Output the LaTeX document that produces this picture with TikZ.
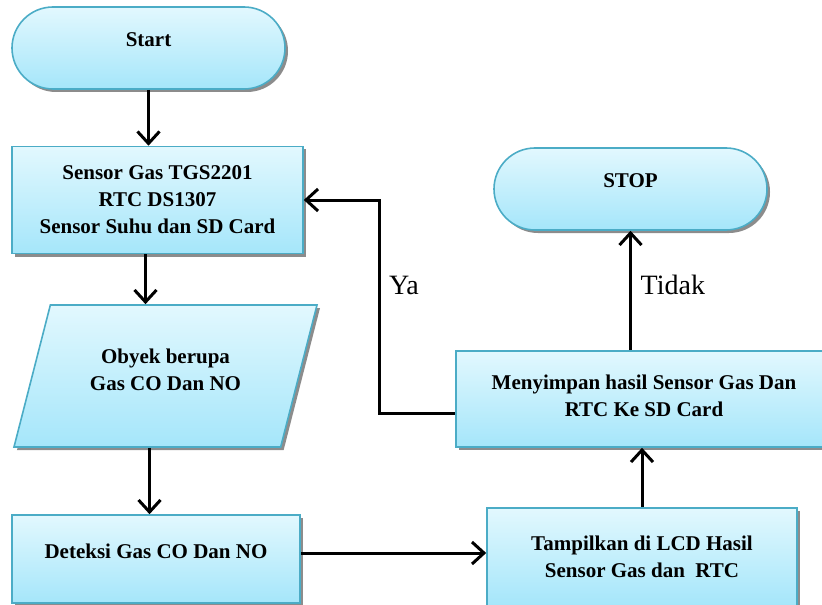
\documentclass[tikz,border=0pt]{standalone}
\usepackage{fontspec}
\setmainfont{Liberation Serif}
\usetikzlibrary{positioning,arrows.meta,shapes.geometric,shadows}
\definecolor{aquaedge}{HTML}{4BACC6}
\definecolor{aquatop}{HTML}{E2F8FE}
\definecolor{aquabot}{HTML}{A5E6FA}

\begin{document}
\begin{tikzpicture}[x=0.5pt,y=-0.5pt,
  >={Straight Barb[length=6pt,width=11pt]},
  blok/.style={draw=aquaedge,line width=0.8pt,top color=aquatop,bottom color=aquabot,
    drop shadow={shadow xshift=1.5pt,shadow yshift=-1.5pt,fill=black!45,opacity=1},
    font=\fontsize{10.5}{13.5}\selectfont\bfseries,align=center,inner sep=0pt},
  ujung/.style={blok,rounded corners=20.5pt,text depth=8pt},
  panah/.style={->,line width=1.5pt},
  teks/.style={font=\fontsize{14}{16}\selectfont}]
  \useasboundingbox (0,0) rectangle (822,604);
  % kolom kiri
  \node[ujung,minimum width=136.5pt,minimum height=41pt] (start) at (148.5,48) {Start};
  \node[blok,minimum width=145.5pt,minimum height=53.5pt] (sensor) at (157.5,200) {Sensor Gas TGS2201\\RTC DS1307\\Sensor Suhu dan SD Card};
  \node[blok,trapezium,trapezium left angle=66,trapezium right angle=114,trapezium stretches=true,
    minimum width=152.5pt,minimum height=71pt,text depth=6pt] (obyek) at (165.5,376) {Obyek berupa\\Gas CO Dan NO};
  \node[blok,minimum width=144pt,minimum height=44pt,text depth=8pt] (deteksi) at (156,559) {Deteksi Gas CO Dan NO};
  % kolom kanan
  \node[blok,minimum width=155pt,minimum height=49pt] (tampil) at (642,557) {Tampilkan di LCD Hasil\\Sensor Gas dan\ \ RTC};
  \node[blok,minimum width=188pt,minimum height=48pt,text depth=3pt] (simpan) at (644,399) {Menyimpan hasil Sensor Gas Dan\\RTC Ke SD Card};
  \node[ujung,minimum width=136.5pt,minimum height=41pt] (stop) at (630.5,189) {STOP};
  \coordinate (belok) at (379,300);
  % panah
  \draw[panah] (start.south) -- (start.south |- sensor.north);
  \draw[panah] ([xshift=-6pt]sensor.south) -- ([xshift=-6pt]sensor.south |- obyek.north);
  \draw[panah] ([xshift=-8pt]obyek.south) -- ([xshift=-8pt]obyek.south |- deteksi.north);
  \draw[panah] ([yshift=3pt]deteksi.east) -- ([yshift=3pt]deteksi.east -| tampil.west);
  \draw[panah] (tampil.north) -- (tampil.north |- simpan.south);
  \draw[panah] (simpan.north -| stop.south) -- (stop.south) node[teks,pos=0.55,right=1pt] (tidak) {Tidak};
  \draw[panah] ([yshift=-7pt]simpan.west) -| (belok) |- (sensor.east);
  \node[teks,right] (ya) at (382,285) {Ya};
\end{tikzpicture}
\end{document}
